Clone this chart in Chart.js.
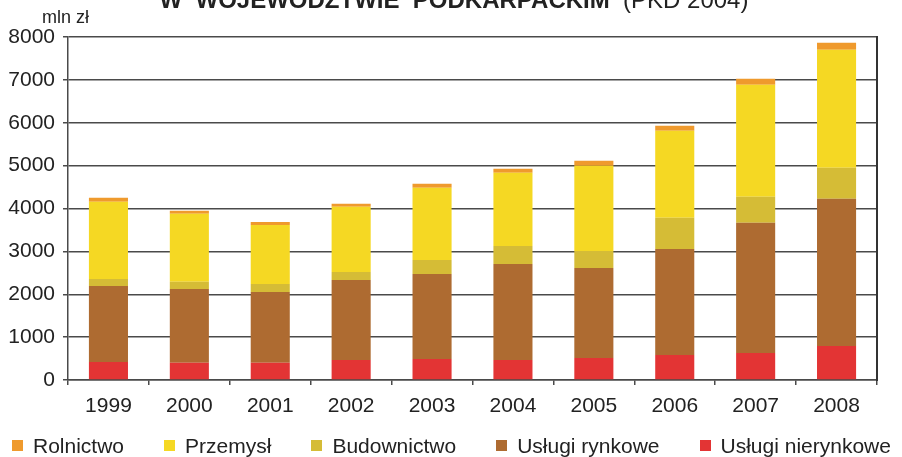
<!DOCTYPE html>
<html>
<head>
<meta charset="utf-8">
<script src="https://cdn.jsdelivr.net/npm/chart.js@4.4.1/dist/chart.umd.min.js"></script>
<style>
  body { margin: 0; background: #fff; }
  #wrap { position: relative; width: 902px; height: 457px; }
  #legend {
    position: absolute; left: 12px; top: 435px;
    display: flex; align-items: center;
    font: 21px "Liberation Sans", Arial, sans-serif; line-height: 21px; color: #222;
    white-space: nowrap;
  }
  #legend .item { display: flex; align-items: center; margin-right: 40px; }
  #legend .item:last-child { margin-right: 0; }
  #legend .box { width: 11px; height: 11px; margin-right: 10px; }
</style>
</head>
<body>
<div id="wrap">
  <canvas id="myChart" width="902" height="457"></canvas>
  <div id="legend"></div>
</div>
<script>
var years = ['1999', '2000', '2001', '2002', '2003', '2004', '2005', '2006', '2007', '2008'];

// mln zł
var uslugiNierynkowe = [420, 400, 400, 467, 490, 467, 514, 584, 630, 794];
var uslugiRynkowe = [1774, 1725, 1655, 1867, 1984, 2241, 2100, 2474, 3035, 3431];
var budownictwo = [164, 165, 185, 187, 327, 420, 397, 724, 607, 724];
var przemysl = [1797, 1590, 1377, 1517, 1681, 1704, 1984, 2031, 2614, 2754];
var rolnictwo = [94, 70, 70, 70, 93, 93, 117, 116, 140, 164];

var yTicks = [0, 1000, 2000, 3000, 4000, 5000, 6000, 7000, 8000];

var font = '"Liberation Sans", Arial, sans-serif';
var gridColor = '#4a4a4a';

// title (cut at the top) and unit label
var texts = {
  id: 'texts',
  afterDraw: function(chart) {
    var c = chart.ctx;
    c.save();
    c.fillStyle = '#222';
    c.textBaseline = 'alphabetic';
    var boldPart = 'W  WOJEWÓDZTWIE  PODKARPACKIM';
    var normPart = '  (PKD 2004)';
    c.font = 'bold 24px ' + font;
    var w1 = c.measureText(boldPart).width;
    c.font = '24px ' + font;
    var w2 = c.measureText(normPart).width;
    var x = chart.width / 2 + 3 - (w1 + w2) / 2;
    c.font = 'bold 24px ' + font;
    c.fillText(boldPart, x, 7.5);
    c.font = '24px ' + font;
    c.fillText(normPart, x + w1, 7.5);
    c.font = '18px ' + font;
    c.fillText('mln zł', 42, 23);
    c.restore();
  }
};

var ctx = document.getElementById('myChart').getContext('2d');
var myChart = new Chart(ctx, {
  type: 'bar',
  data: {
    labels: years,
    datasets: [{
        label: 'Usługi nierynkowe',
        data: uslugiNierynkowe,
        backgroundColor: '#e33434'
      }, {
        label: 'Usługi rynkowe',
        data: uslugiRynkowe,
        backgroundColor: '#ae6b31'
      }, {
        label: 'Budownictwo',
        data: budownictwo,
        backgroundColor: '#d5bc36'
      }, {
        label: 'Przemysł',
        data: przemysl,
        backgroundColor: '#f5d823'
      }, {
        label: 'Rolnictwo',
        data: rolnictwo,
        backgroundColor: '#ef9a2d'
      }
    ]
  },
  options: {
    responsive: false,
    animation: false,
    layout: { padding: { top: 37, right: 25, left: 0, bottom: 0 } },
    datasets: { bar: { barPercentage: 0.483, categoryPercentage: 1 } },
    plugins: {
      legend: { display: false },
      tooltip: { enabled: false }
    },
    scales: {
      x: {
        stacked: true,
        afterFit: function(s) { s.height = 77; },
        grid: { drawOnChartArea: false, offset: true, tickLength: 5, color: gridColor, lineWidth: 1.5 },
        border: { color: gridColor, width: 1.5 },
        ticks: { font: { size: 21, family: font }, color: '#222', padding: 9 }
      },
      y: {
        stacked: true,
        min: 0,
        max: 8000,
        afterFit: function(s) { s.width = 68; },
        afterBuildTicks: function(s) { s.ticks = yTicks.map(function(v) { return { value: v }; }); },
        grid: { color: gridColor, lineWidth: 1.5, tickLength: 5 },
        border: { color: gridColor, width: 1.5 },
        ticks: {
          font: { size: 21, family: font },
          color: '#222',
          padding: 8,
          callback: function(v) { return String(v); }
        }
      },
      y2: {
        position: 'right',
        min: 0,
        max: 8000,
        afterFit: function(s) { s.width = 0; },
        grid: { display: false },
        border: { color: '#333', width: 2 },
        ticks: { display: false }
      }
    }
  },
  plugins: [texts]
});

// legend under the chart, top series first
var items = Chart.defaults.plugins.legend.labels.generateLabels(myChart).reverse();
var legendEl = document.getElementById('legend');
items.forEach(function(it) {
  var d = document.createElement('div');
  d.className = 'item';
  var b = document.createElement('span');
  b.className = 'box';
  b.style.background = it.fillStyle;
  var t = document.createElement('span');
  t.textContent = it.text;
  d.appendChild(b);
  d.appendChild(t);
  legendEl.appendChild(d);
});
</script>
</body>
</html>
